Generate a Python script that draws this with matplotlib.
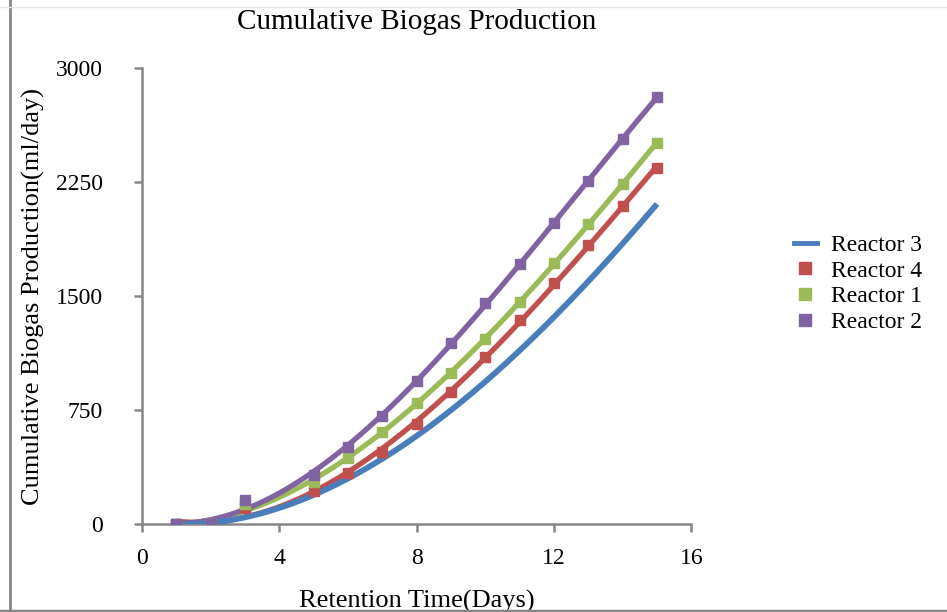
import numpy as np
import matplotlib
matplotlib.use("Agg")
import matplotlib.pyplot as plt
from matplotlib.lines import Line2D

plt.rcParams['font.family'] = ['Liberation Serif', 'DejaVu Serif']

# Measured cumulative biogas (ml/day) per retention day
days_r3 = [1, 2, 3, 4, 5, 6, 7, 8, 9, 10, 11, 12, 13, 14, 15]
reactor3 = [0, 8, 45, 95, 190, 300, 430, 580, 760, 945, 1140, 1350, 1590, 1845, 2112]

days = [1, 2, 3, 5, 6, 7, 8, 9, 10, 11, 12, 13, 14, 15]
reactor4 = [0, 0, 105, 215, 336, 474, 658, 868, 1099, 1342, 1586, 1836, 2092, 2342]
reactor1 = [0, 0, 130, 276, 434, 605, 796, 993, 1217, 1461, 1717, 1974, 2237, 2507]
reactor2 = [0, 0, 158, 322, 507, 711, 941, 1191, 1454, 1711, 1980, 2257, 2533, 2809]

x_ticks = [0, 4, 8, 12, 16]
y_ticks = [0, 750, 1500, 2250, 3000]

c_r3 = '#4A7EBB'
c_r4 = '#C0504D'
c_r1 = '#9BBB59'
c_r2 = '#8064A2'
axis_gray = '#868686'

fig = plt.figure(figsize=(9.47, 6.12), dpi=100)
ax = fig.add_axes([0.150, 0.1438, 0.580, 0.745])

xs = np.linspace(1, 15, 200)

def trend(x, y, deg=3):
    coeffs = np.polyfit(x, y, deg)
    return np.polyval(coeffs, xs)

lw = 3.8
ax.plot(xs, trend(days_r3, reactor3), color=c_r3, lw=4.2, solid_capstyle='butt', zorder=3)
for d, vals, col in [(days, reactor4, c_r4), (days, reactor1, c_r1), (days, reactor2, c_r2)]:
    ax.plot(xs, trend(d, vals), color=col, lw=lw, solid_capstyle='butt', zorder=2)
    ax.plot(d, vals, 's', color=col, ms=6.5, zorder=4)

ax.set_xlim(0, 16)
ax.set_ylim(0, 3000)
ax.set_xticks(x_ticks)
ax.set_yticks(y_ticks)

for s in ['top', 'right']:
    ax.spines[s].set_visible(False)
for s in ['left', 'bottom']:
    ax.spines[s].set_color(axis_gray)
    ax.spines[s].set_linewidth(1.8)
ax.tick_params(axis='both', direction='out', length=6, width=1.8, color=axis_gray,
               labelsize=17)
ax.tick_params(axis='x', pad=11)
ax.tick_params(axis='y', pad=22)

ax.set_title('Cumulative Biogas Production', fontsize=21, pad=28)
ax.set_ylabel('Cumulative Biogas Production(ml/day)', fontsize=19, labelpad=8)
ax.set_xlabel('Retention Time(Days)', fontsize=19, labelpad=15)

handles = [
    Line2D([], [], color=c_r3, lw=3.5),
    Line2D([], [], color=c_r4, marker='s', ls='none', ms=9),
    Line2D([], [], color=c_r1, marker='s', ls='none', ms=9),
    Line2D([], [], color=c_r2, marker='s', ls='none', ms=9),
]
labels = ['Reactor 3', 'Reactor 4', 'Reactor 1', 'Reactor 2']
fig.legend(handles, labels, loc='upper left', bbox_to_anchor=(0.828, 0.632),
           frameon=False, fontsize=17, handlelength=1.0, handletextpad=0.6,
           labelspacing=0.17, borderaxespad=0)

# chart frame
fig.add_artist(Line2D([9.5 / 947, 9.5 / 947], [0, 1], color=axis_gray, lw=2, transform=fig.transFigure))
fig.add_artist(Line2D([0, 1], [1.5 / 612, 1.5 / 612], color=axis_gray, lw=2.5, transform=fig.transFigure))
fig.add_artist(Line2D([0, 1], [1 - 7 / 612, 1 - 7 / 612], color='#E6E6E6', lw=1, transform=fig.transFigure))

fig.savefig('out.png', dpi=100)
